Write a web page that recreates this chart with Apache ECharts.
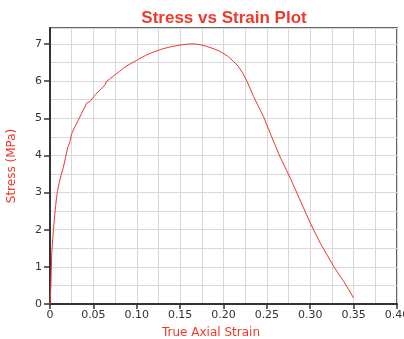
<!DOCTYPE html>
<html><head><meta charset="utf-8">
<script src="https://cdn.jsdelivr.net/npm/echarts@6/dist/echarts.min.js"></script>
<style>html,body{margin:0;padding:0;background:#fff}#c{width:404px;height:339px}</style>
</head><body><div id="c"></div>
<script>
const strain = [0, 0.001, 0.002, 0.003, 0.004, 0.005, 0.0065, 0.0085, 0.0105, 0.0125, 0.0154, 0.018, 0.0205, 0.0225, 0.0235, 0.025, 0.028, 0.031, 0.0366, 0.0423, 0.044, 0.046, 0.052, 0.058, 0.0635, 0.065, 0.07, 0.075, 0.08, 0.0846, 0.0855, 0.09, 0.1, 0.11, 0.12, 0.13, 0.14, 0.15, 0.16, 0.167, 0.173, 0.18, 0.19, 0.196, 0.205, 0.2115, 0.217, 0.222, 0.227, 0.2346, 0.246, 0.2538, 0.265, 0.277, 0.288, 0.300, 0.3115, 0.327, 0.3385, 0.344, 0.35];
const stress = [0, 0.5, 1.37, 1.7, 2.0, 2.27, 2.65, 3.03, 3.25, 3.45, 3.68, 3.95, 4.22, 4.33, 4.33, 4.58, 4.74, 4.87, 5.14, 5.41, 5.45, 5.45, 5.63, 5.77, 5.9, 5.99, 6.08, 6.17, 6.26, 6.35, 6.36, 6.43, 6.56, 6.69, 6.79, 6.87, 6.93, 6.97, 7.0, 7.0, 6.98, 6.94, 6.86, 6.8, 6.67, 6.53, 6.4, 6.22, 6.0, 5.59, 5.05, 4.6, 3.97, 3.39, 2.81, 2.18, 1.64, 1.01, 0.61, 0.4, 0.16];
const yTicks = [0, 1, 2, 3, 4, 5, 6, 7];
const chart = echarts.init(document.getElementById('c'));
const red = '#ee3a2a';
const grid = '#d8d8d8';
chart.setOption({
  animation: false,
  title: {text: 'Stress vs Strain Plot', left: 219, top: 5, textAlign: 'center',
    textStyle: {color: red, fontSize: 17, fontWeight: 900, fontFamily: 'Liberation Sans'}},
  grid: {left: 50, right: 7, top: 28, bottom: 35, outerBoundsMode: 'none', containLabel: false,
    show: true, borderColor: '#333', borderWidth: 1.5, backgroundColor: 'transparent'},
  xAxis: {type: 'value', min: 0, max: 0.4, interval: 0.05,
    name: 'True Axial Strain', nameLocation: 'middle', nameGap: 23,
    nameTextStyle: {color: red, fontSize: 12, fontFamily: 'DejaVu Sans', padding: [0, 25, 0, 0]},
    axisLine: {show: true, onZero: false, lineStyle: {color: '#333', width: 2}},
    axisTick: {show: true, length: 5, lineStyle: {color: '#333', width: 1.5}},
    axisLabel: {color: '#333', fontSize: 11, fontFamily: 'DejaVu Sans', margin: 6,
      formatter: v => v === 0 ? '0' : v.toFixed(2)},
    splitLine: {show: true, lineStyle: {color: grid, width: 1}},
    minorTick: {show: false, splitNumber: 2},
    minorSplitLine: {show: true, lineStyle: {color: grid, width: 1}}
  },
  yAxis: [{type: 'value', min: 0, max: 7.43, interval: 1, z: 3,
    name: 'Stress (MPa)', nameLocation: 'middle', nameGap: 32,
    nameTextStyle: {color: red, fontSize: 12, fontFamily: 'DejaVu Sans'},
    axisLine: {show: true, onZero: false, lineStyle: {color: '#333', width: 2}},
    axisTick: {show: true, length: 6, customValues: yTicks, lineStyle: {color: '#333', width: 1.5}},
    axisLabel: {color: '#333', fontSize: 11, fontFamily: 'DejaVu Sans', margin: 8, customValues: yTicks},
    splitLine: {show: false}
  }, {type: 'value', min: 0, max: 7.43, interval: 0.5, position: 'left',
    axisLine: {show: false}, axisTick: {show: false}, axisLabel: {show: false},
    splitLine: {show: true, lineStyle: {color: grid, width: 1}}
  }],
  series: [{type: 'line', data: strain.map((x, i) => [x, stress[i]]), showSymbol: false,
    lineStyle: {color: red, width: 1}, smooth: false}]
});
</script></body></html>
